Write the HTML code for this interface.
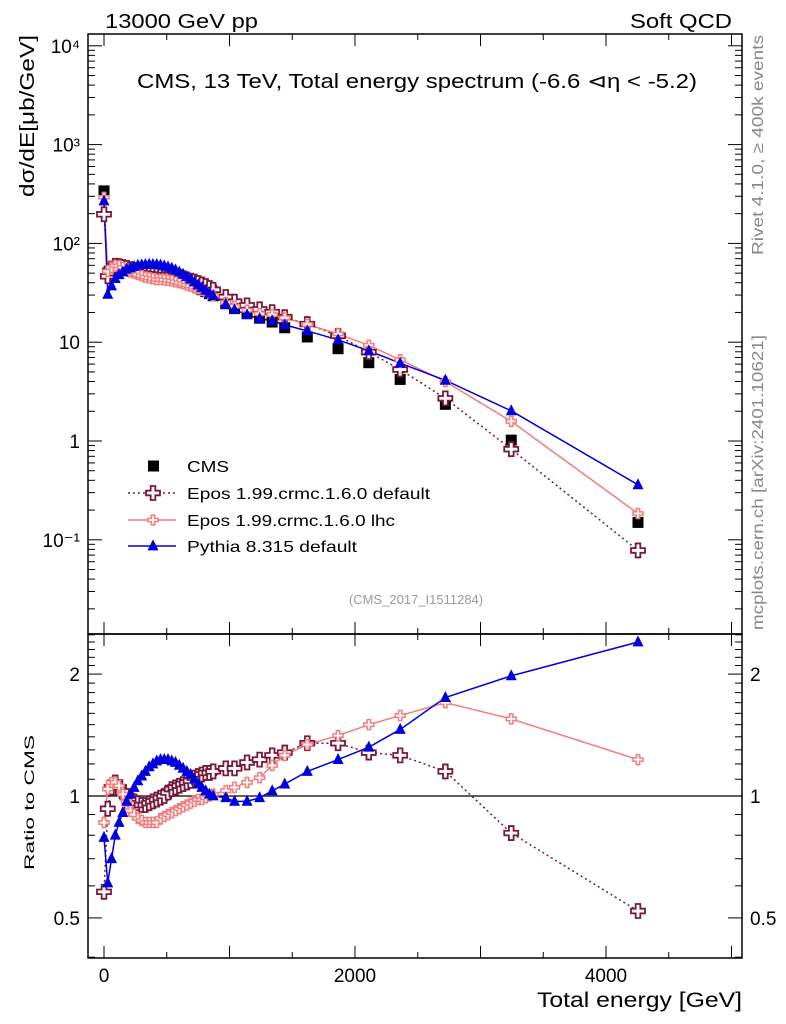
<!DOCTYPE html>
<html><head><meta charset="utf-8"><style>
html,body{margin:0;padding:0;background:#fff;}
svg{display:block;font-family:"Liberation Sans",sans-serif;}
</style></head><body>
<svg id="c" width="786" height="1024" viewBox="0 0 786 1024">
<text x="105" y="28" font-size="20" textLength="153" lengthAdjust="spacingAndGlyphs">13000 GeV pp</text>
<text x="630" y="28" font-size="20" textLength="102" lengthAdjust="spacingAndGlyphs">Soft QCD</text>
<text x="137" y="88" font-size="20" textLength="560" lengthAdjust="spacingAndGlyphs">CMS, 13 TeV, Total energy spectrum (-6.6 ⊲η &lt; -5.2)</text>
<text transform="translate(34,197) rotate(-90)" font-size="20" textLength="162" lengthAdjust="spacingAndGlyphs">dσ/dE[μb/GeV]</text>
<text transform="translate(34,870) rotate(-90)" font-size="14" textLength="135" lengthAdjust="spacingAndGlyphs">Ratio to CMS</text>
<text transform="translate(763,255) rotate(-90)" font-size="16" fill="#888" textLength="220" lengthAdjust="spacingAndGlyphs">Rivet 4.1.0, ≥ 400k events</text>
<text transform="translate(763,630) rotate(-90)" font-size="16" fill="#888" textLength="295" lengthAdjust="spacingAndGlyphs">mcplots.cern.ch [arXiv:2401.10621]</text>
<text x="416" y="604" font-size="13" fill="#999" text-anchor="middle">(CMS_2017_I1511284)</text>
<text x="537" y="1007" font-size="21" textLength="205" lengthAdjust="spacingAndGlyphs">Total energy [GeV]</text>
<g id="g"></g>
</svg>
<script>
const energies=[0,30,60,90,120,150,180,210,240,270,300,330,360,390,420,450,480,510,540,570,600,630,660,690,720,750,780,810,840,870,970,1040,1140,1240,1340,1440,1620,1865,2110,2360,2720,3245,4255];
const cmsValues=[340,50,53,55,56,56.5,56.5,56,55.5,55,54,53,52,51,50,49,48,47,46,44.5,43,41.5,40,38.5,37,35.5,34,32.5,31,29.5,24.5,22,19.5,17.5,16,14,11.3,8.6,6.2,4.2,2.35,1.02,0.15];
const eposDefRatio=[0.58,0.93,1.05,1.08,1.05,1.02,1.0,0.98,0.97,0.96,0.95,0.95,0.96,0.97,0.98,0.99,1.0,1.02,1.04,1.05,1.06,1.07,1.08,1.09,1.11,1.12,1.13,1.14,1.14,1.15,1.17,1.17,1.21,1.23,1.26,1.28,1.35,1.35,1.28,1.26,1.15,0.81,0.52];
const eposLhcRatio=[0.86,1.04,1.08,1.08,1.06,1.01,0.97,0.92,0.90,0.88,0.87,0.86,0.86,0.86,0.86,0.88,0.89,0.90,0.91,0.92,0.93,0.94,0.95,0.96,0.97,0.98,0.98,0.99,1.0,1.01,1.03,1.05,1.08,1.11,1.19,1.26,1.34,1.41,1.5,1.58,1.7,1.55,1.23];
const pythiaRatio=[0.79,0.61,0.70,0.80,0.86,0.91,0.97,1.01,1.05,1.09,1.12,1.15,1.18,1.20,1.22,1.23,1.23,1.23,1.22,1.21,1.19,1.17,1.15,1.13,1.10,1.07,1.05,1.03,1.01,1.00,0.99,0.97,0.97,0.99,1.03,1.07,1.15,1.23,1.32,1.46,1.75,1.98,2.4];
const xTicks=[0,2000,4000];
const yTickLabels=["10⁴","10³","10²","10","1","10⁻¹"];
const yTickVals=[1e4,1e3,100,10,1,0.1];
const ratioTicks=[0.5,1,2];

const NS="http://www.w3.org/2000/svg";
const g=document.getElementById('g');
const L=88,R=742,T1=34,B1=634,B2=958;
const X=e=>104+0.1255*e;
const Y=v=>441-98.8*Math.log10(v);
const YR=r=>796-405*Math.log10(r);
function mk(tag,attrs,parent){const el=document.createElementNS(NS,tag);for(const k in attrs)el.setAttribute(k,attrs[k]);(parent||g).appendChild(el);return el;}

let f1=mk('rect',{x:L,y:T1,width:R-L,height:B1-T1,fill:'none',stroke:'#000','stroke-width':1.5});


let f2=mk('rect',{x:L,y:B1,width:R-L,height:B2-B1,fill:'none',stroke:'#000','stroke-width':1.5});



for(let e=0;e<=5000;e+=500){const x=X(e);if(x>R)break;const len=(e%1000===0)?12:6;
 mk('line',{x1:x,y1:T1,x2:x,y2:T1+len,stroke:'#000'});
 mk('line',{x1:x,y1:B1,x2:x,y2:B1-len,stroke:'#000'});
 mk('line',{x1:x,y1:B1,x2:x,y2:B1+len,stroke:'#000'});
 mk('line',{x1:x,y1:B2,x2:x,y2:B2-len,stroke:'#000'});}
xTicks.forEach(v=>{const t=mk('text',{x:X(v),y:982,'font-size':19,'text-anchor':'middle'});t.textContent=v;
 
 });

for(let d=-2;d<=4;d++){for(let m=1;m<=9;m++){const v=m*Math.pow(10,d);const y=Y(v);if(y<T1||y>B1)continue;const len=m===1?14:7;
 mk('line',{x1:L,y1:y,x2:L+len,y2:y,stroke:'#000'});mk('line',{x1:R,y1:y,x2:R-len,y2:y,stroke:'#000'});}}
yTickVals.forEach((v,i)=>{const t=mk('text',{x:80,y:Y(v)+7,'font-size':19,'text-anchor':'end'});t.textContent=yTickLabels[i];
 
 });

for(let k=4;k<=25;k++){const r=k/10;const y=YR(r);if(y<B1||y>B2)continue;const major=(k===5||k===10||k===20);const len=major?14:7;
 mk('line',{x1:L,y1:y,x2:L+len,y2:y,stroke:'#000'});mk('line',{x1:R,y1:y,x2:R-len,y2:y,stroke:'#000'});}
ratioTicks.forEach(v=>{const t=mk('text',{x:80,y:YR(v)+7,'font-size':19,'text-anchor':'end'});t.textContent=v;
 
 
 const t2=mk('text',{x:750,y:YR(v)+7,'font-size':19});t2.textContent=v;
 
 });
mk('line',{x1:L,y1:YR(1),x2:R,y2:YR(1),stroke:'#000','stroke-width':1.2});

function cross(x,y,s,col,sw,name){const a=s/2,b=s/6;
 const p=mk('path',{d:`M${x-b},${y-a}H${x+b}V${y-b}H${x+a}V${y+b}H${x+b}V${y+a}H${x-b}V${y+b}H${x-a}V${y-b}H${x-b}Z`,fill:'#fff',stroke:col,'stroke-width':sw});
 
 }
function tri(x,y,s,col,name){const p=mk('path',{d:`M${x},${y-s*0.6}L${x+s/2},${y+s*0.4}L${x-s/2},${y+s*0.4}Z`,fill:col});
 
 }
function line(pts,col,dash,sw,name){const l=mk('polyline',{points:pts.map(p=>p.join(',')).join(' '),fill:'none',stroke:col,'stroke-width':sw});if(dash)l.setAttribute('stroke-dasharray',dash);
 
 }

const cDef='#7a1838',cLhc='#f47c7c',cPy='#0000dd';
const defTop=energies.map((e,i)=>[X(e),Y(cmsValues[i]*eposDefRatio[i])]);
const lhcTop=energies.map((e,i)=>[X(e),Y(cmsValues[i]*eposLhcRatio[i])]);
const pyTop=energies.map((e,i)=>[X(e),Y(cmsValues[i]*pythiaRatio[i])]);
const defR=energies.map((e,i)=>[X(e),YR(eposDefRatio[i])]);
const lhcR=energies.map((e,i)=>[X(e),YR(eposLhcRatio[i])]);
const pyR=energies.map((e,i)=>[X(e),YR(pythiaRatio[i])]);

line(defTop,cDef,'2,3',1.5,'epos-default-line');
line(lhcTop,cLhc,null,1.5,'epos-lhc-line');
line(pyTop,cPy,null,1.5,'pythia-line');
energies.forEach((e,i)=>{const x=X(e),y=Y(cmsValues[i]);const r=mk('rect',{x:x-5.5,y:y-5.5,width:11,height:11,fill:'#000'});
 
 });
defTop.forEach(p=>cross(p[0],p[1],14,cDef,1.8,'epos-default-point'));
lhcTop.forEach(p=>cross(p[0],p[1],10,cLhc,1.5,'epos-lhc-point'));
pyTop.forEach(p=>tri(p[0],p[1],11,cPy,'pythia-point'));

line(defR,cDef,'2,3',1.5,'epos-default-ratio-line');
line(lhcR,cLhc,null,1.5,'epos-lhc-ratio-line');
line(pyR,cPy,null,1.5,'pythia-ratio-line');
defR.forEach(p=>cross(p[0],p[1],14,cDef,1.8,'epos-default-ratio-point'));
lhcR.forEach(p=>cross(p[0],p[1],10,cLhc,1.5,'epos-lhc-ratio-point'));
pyR.forEach(p=>tri(p[0],p[1],11,cPy,'pythia-ratio-point'));

const lg=mk('g',{});


const ly=[466,493,520,546];
const labels=['CMS','Epos 1.99.crmc.1.6.0 default','Epos 1.99.crmc.1.6.0 lhc','Pythia 8.315 default'];
const lens=[42,243,208,170];
labels.forEach((s,i)=>{const t=mk('text',{x:187,y:ly[i]+6,'font-size':16,textLength:lens[i],lengthAdjust:'spacingAndGlyphs'},lg);t.textContent=s;
 
 });
mk('rect',{x:148,y:ly[0]-5.5,width:11,height:11,fill:'#000'},lg);
mk('line',{x1:128,y1:ly[1],x2:176,y2:ly[1],stroke:cDef,'stroke-width':1.5,'stroke-dasharray':'2,3'},lg);
cross(153,ly[1],14,cDef,1.8,'legend-epos-default-marker');
mk('line',{x1:128,y1:ly[2],x2:176,y2:ly[2],stroke:cLhc,'stroke-width':1.5},lg);
cross(153,ly[2],10,cLhc,1.5,'legend-epos-lhc-marker');
mk('line',{x1:128,y1:ly[3],x2:176,y2:ly[3],stroke:cPy,'stroke-width':1.5},lg);
tri(153,ly[3],11,cPy,'legend-pythia-marker');
</script>
</body></html>
